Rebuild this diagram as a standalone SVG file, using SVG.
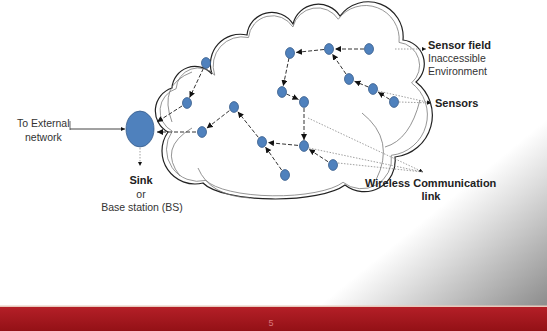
<svg xmlns="http://www.w3.org/2000/svg" width="547" height="331" viewBox="0 0 547 331">
<defs>
<linearGradient id="bg" gradientUnits="userSpaceOnUse" x1="430" y1="215" x2="520" y2="325">
<stop offset="0" stop-color="#ffffff"/>
<stop offset="0.3" stop-color="#dedede"/>
<stop offset="1" stop-color="#8e8e8e"/>
</linearGradient>
<linearGradient id="bar" x1="0" y1="0" x2="0" y2="1">
<stop offset="0" stop-color="#b41f27"/>
<stop offset="1" stop-color="#931116"/>
</linearGradient>
<marker id="ah" markerUnits="userSpaceOnUse" markerWidth="7" markerHeight="7" refX="6" refY="3" orient="auto">
<path d="M0,0 L6,3 L0,6 z" fill="#111"/>
</marker>
<marker id="sh" markerUnits="userSpaceOnUse" markerWidth="5" markerHeight="5" refX="4" refY="2" orient="auto">
<path d="M0,0 L4,2 L0,4 z" fill="#111"/>
</marker>
</defs>
<style>
.node{fill:#4f81bd;stroke:#385d8a;stroke-width:0.8}
.link{fill:none;stroke:#333;stroke-width:1;stroke-dasharray:4 2;marker-end:url(#ah)}
.call{fill:none;stroke:#888;stroke-width:0.8;stroke-dasharray:1.5 1.5}
.cloud{fill:#fff;stroke:#222;stroke-width:1.2}
.cloud2{fill:none;stroke:#777;stroke-width:0.8}
.b{font-family:"Liberation Sans",Arial,sans-serif;font-weight:bold;font-size:11px;fill:#222}
.r{font-family:"Liberation Sans",Arial,sans-serif;font-size:10.5px;fill:#333}
</style>
<rect x="0" y="0" width="547" height="331" fill="url(#bg)"/>
<rect x="0" y="305.5" width="547" height="1.5" fill="#e8c9bd"/>
<rect x="0" y="307" width="547" height="24" fill="url(#bar)"/>
<text x="271" y="326" font-family="Liberation Sans,Arial,sans-serif" font-size="9" fill="#d9787c" text-anchor="middle">5</text>

<g id="cloud">
<path class="cloud" d="M203,183 A33,33 0 0 1 168,132 A24,24 0 0 1 172,88 A23,23 0 0 1 212,74 A30,30 0 0 1 247,35 A25,25 0 0 1 293,24 A26,26 0 0 1 340,16 A35,35 0 0 1 403,40 A24,24 0 0 1 416,82 A42,42 0 0 1 395,157 A31,31 0 0 1 345,185 A75,22 0 0 1 203,183 Z"/>
<path class="cloud2" transform="translate(290,108) scale(0.965) translate(-290,-108)" d="M203,183 A33,33 0 0 1 168,132 A24,24 0 0 1 172,88 A23,23 0 0 1 212,74 A30,30 0 0 1 247,35 A25,25 0 0 1 293,24 A26,26 0 0 1 340,16 A35,35 0 0 1 403,40 A24,24 0 0 1 416,82 A42,42 0 0 1 395,157 A31,31 0 0 1 345,185 A75,22 0 0 1 203,183 Z"/>
<path class="cloud2" d="M362,113 Q396,140 376,180"/>
<path class="cloud2" d="M420,100 Q410,140 385,147"/>
<path class="cloud2" d="M192,128 Q158,148 180,176"/>
<path class="cloud2" d="M192,72 Q158,85 172,122"/>
<path class="cloud2" d="M198,168 Q210,196 250,198"/>
</g>

<g id="connectors">
<path class="link" d="M364,49 L335,49"/>
<path class="link" d="M324,49.5 L296,52.4"/>
<path class="link" d="M289,58 L283.2,86.1"/>
<path class="link" d="M286.5,94 L298.5,99.5"/>
<path class="link" d="M304,108 L304,140"/>
<path class="link" d="M368.4,87 L354.5,81.3"/>
<path class="link" d="M346,74 L332.3,54"/>
<path class="link" d="M389.7,99.4 L378.1,92.2"/>
<path class="link" d="M328,161.7 L309,149.3"/>
<path class="link" d="M298,145.4 L268,142.6"/>
<path class="link" d="M281.6,170 L265.4,146.9"/>
<path class="link" d="M258.3,137.3 L237.8,111.7"/>
<path class="link" d="M229.3,110.7 L206.7,128.3"/>
<path class="link" d="M196,132 L157,132"/>
<path class="link" d="M203.4,68.4 L189.6,97.6"/>
<path class="link" d="M182,106 L157,122"/>
<path d="M70,129 L125,129" fill="none" stroke="#444" stroke-width="1" marker-end="url(#sh)"/>
<path d="M70,121 L70,130" fill="none" stroke="#444" stroke-width="0.8"/>
<path class="call" d="M140,148 L140,166" marker-end="url(#sh)"/>
<path class="call" d="M395,49 L426,49" marker-end="url(#sh)"/>
<path class="call" d="M378,91 L431,103" marker-end="url(#sh)"/>
<path class="call" d="M399,102 L431,103" marker-end="url(#sh)"/>
<path class="call" d="M308,118 L423,172" marker-end="url(#sh)"/>
<path class="call" d="M309,148 L423,172"/>
<path class="call" d="M338,163 L423,172"/>
</g>

<g id="sink"><ellipse class="node" cx="140" cy="129" rx="14" ry="18"/></g>
<g id="n1"><ellipse class="node" cx="206" cy="63" rx="4.5" ry="5.4"/></g>
<g id="n2"><ellipse class="node" cx="290" cy="53" rx="4.5" ry="5.4"/></g>
<g id="n3"><ellipse class="node" cx="329" cy="49" rx="4.5" ry="5.4"/></g>
<g id="n4"><ellipse class="node" cx="369" cy="49" rx="4.5" ry="5.4"/></g>
<g id="n5"><ellipse class="node" cx="187" cy="103" rx="4.5" ry="5.4"/></g>
<g id="n6"><ellipse class="node" cx="234" cy="107" rx="4.5" ry="5.4"/></g>
<g id="n7"><ellipse class="node" cx="282" cy="92" rx="4.5" ry="5.4"/></g>
<g id="n8"><ellipse class="node" cx="304" cy="102" rx="4.5" ry="5.4"/></g>
<g id="n9"><ellipse class="node" cx="349" cy="79" rx="4.5" ry="5.4"/></g>
<g id="n10"><ellipse class="node" cx="373" cy="89" rx="4.5" ry="5.4"/></g>
<g id="n11"><ellipse class="node" cx="394" cy="102" rx="4.5" ry="5.4"/></g>
<g id="n12"><ellipse class="node" cx="202" cy="132" rx="4.5" ry="5.4"/></g>
<g id="n13"><ellipse class="node" cx="262" cy="142" rx="4.5" ry="5.4"/></g>
<g id="n14"><ellipse class="node" cx="304" cy="146" rx="4.5" ry="5.4"/></g>
<g id="n15"><ellipse class="node" cx="333" cy="165" rx="4.5" ry="5.4"/></g>
<g id="n16"><ellipse class="node" cx="285" cy="175" rx="4.5" ry="5.4"/></g>

<g id="labels">
<text class="r" x="17" y="127">To External</text>
<text class="r" x="25" y="141">network</text>
<text class="b" x="141" y="184" text-anchor="middle">Sink</text>
<text class="r" x="141" y="198" text-anchor="middle">or</text>
<text class="r" x="142" y="211" text-anchor="middle">Base station (BS)</text>
<text class="b" x="428" y="49">Sensor field</text>
<text class="r" x="428" y="62">Inaccessible</text>
<text class="r" x="428" y="75">Environment</text>
<text class="b" x="435" y="107">Sensors</text>
<text class="b" x="365" y="187">Wireless Communication</text>
<text class="b" x="431" y="200" text-anchor="middle">link</text>
</g>
</svg>
